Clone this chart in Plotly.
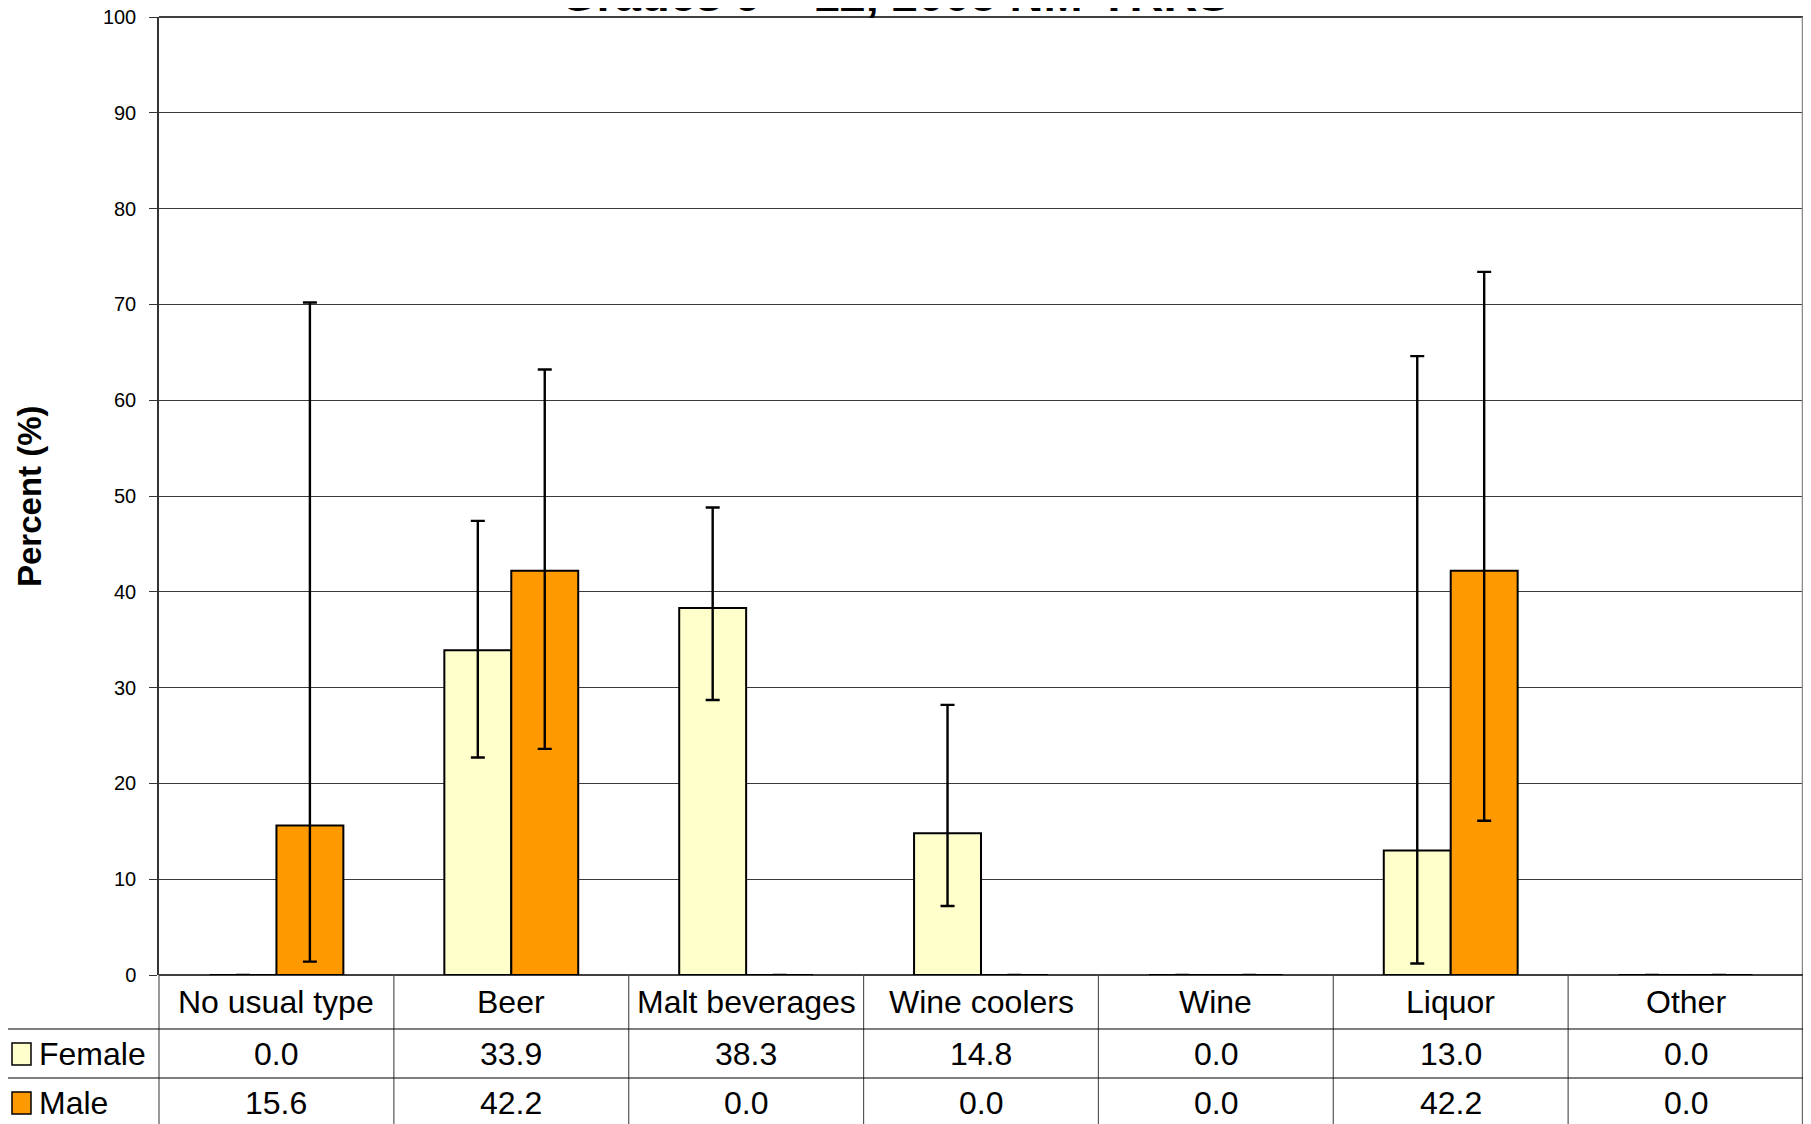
import plotly.graph_objects as go

categories = ["No usual type", "Beer", "Malt beverages", "Wine coolers", "Wine", "Liquor", "Other"]
female = [0.0, 33.9, 38.3, 14.8, 0.0, 13.0, 0.0]
male = [15.6, 42.2, 0.0, 0.0, 0.0, 42.2, 0.0]
female_upper = [0.0, 47.4, 48.8, 28.2, 0.0, 64.6, 0.0]
female_lower = [0.0, 22.7, 28.7, 7.2, 0.0, 1.2, 0.0]
male_upper = [70.2, 63.2, 0.0, 0.0, 0.0, 73.4, 0.0]
male_lower = [1.4, 23.6, 0.0, 0.0, 0.0, 16.1, 0.0]
y_ticks = [0, 10, 20, 30, 40, 50, 60, 70, 80, 90, 100]
title_text = "Grades 9 – 12, 2005 NM-YRRS"
y_title = "Percent (%)"
series_names = ["Female", "Male"]
colors = ["#FFFFCC", "#FF9900"]

# page offset (browser body margin)
OFF = 8
PW, PH = 1811, 1124
W, H = PW - OFF, PH - OFF
# plot area in page pixels
L, R, T, B = 159, 1803, 17, 975
FONT = "Liberation Sans, Arial, sans-serif"


def px(x):
    return (x - L) / (R - L)


def py(y):
    return (B - y) / (B - T)


fig = go.Figure()
for name, vals, up, lo, col in [
    (series_names[0], female, female_upper, female_lower, colors[0]),
    (series_names[1], male, male_upper, male_lower, colors[1]),
]:
    fig.add_trace(go.Bar(
        x=categories, y=vals, name=name,
        marker=dict(color=col, line=dict(color="black", width=2)),
        error_y=dict(type="data", symmetric=False,
                     array=[u - v for u, v in zip(up, vals)],
                     arrayminus=[v - l for v, l in zip(vals, lo)],
                     color="black", thickness=2.4, width=7),
        showlegend=False,
    ))

fig.update_layout(
    width=W, height=H,
    margin=dict(l=L - OFF, r=PW - R, t=T - OFF, b=PH - B, pad=0, autoexpand=False),
    paper_bgcolor="white", plot_bgcolor="white",
    barmode="group", bargap=0.43, bargroupgap=0,
    font=dict(family=FONT, color="black"),
)
fig.update_xaxes(showticklabels=False, showgrid=False, showline=False, zeroline=False, ticks="",
                 automargin=False)
fig.update_yaxes(range=[0, 100], tickvals=y_ticks, ticks="outside", ticklen=8, tickcolor="#333",
                 tickfont=dict(size=20, family=FONT), showgrid=True, gridcolor="#3a3a3a", gridwidth=1,
                 showline=True, linecolor="#333", linewidth=1.5, zeroline=False, ticklabelstandoff=9,
                 ticklabeloverflow="allow", automargin=False)

shapes = []
shapes.append(dict(type="line", xref="paper", yref="paper", x0=0, x1=1, y0=1, y1=1, line=dict(color="black", width=1.5)))
shapes.append(dict(type="line", xref="paper", yref="paper", x0=1, x1=1, y0=1, y1=py(PH), line=dict(color="#888", width=2.5)))
shapes.append(dict(type="line", xref="paper", yref="paper", x0=0, x1=1, y0=0, y1=0, line=dict(color="black", width=1.5)))
n = len(categories)
for k in range(n + 1):
    xx = k / n
    shapes.append(dict(type="line", xref="paper", yref="paper", x0=xx, x1=xx, y0=0, y1=py(PH),
                       line=dict(color="#555", width=1.2)))
shapes.append(dict(type="line", xref="paper", yref="paper", x0=px(3), x1=px(3), y0=py(1029), y1=py(PH),
                   line=dict(color="#555", width=1.2)))
for yy in [1029, 1078]:
    shapes.append(dict(type="line", xref="paper", yref="paper", x0=px(3), x1=1, y0=py(yy), y1=py(yy),
                       line=dict(color="black", width=1.2)))
for (y0, y1), col in zip([(1043, 1065), (1092, 1114)], colors):
    shapes.append(dict(type="rect", xref="paper", yref="paper", x0=px(12), x1=px(31), y0=py(y1), y1=py(y0),
                       fillcolor=col, line=dict(color="black", width=1.5)))

TS = 32
ann = []
for c in categories:
    ann.append(dict(x=c, xref="x", y=py(1002), yref="paper", text=c, showarrow=False,
                    font=dict(size=TS, family=FONT), xanchor="center", yanchor="middle"))
for rowy, vals in [(1054, female), (1103, male)]:
    for c, v in zip(categories, vals):
        ann.append(dict(x=c, xref="x", y=py(rowy), yref="paper", text=f"{v:.1f}", showarrow=False,
                        font=dict(size=TS, family=FONT), xanchor="center", yanchor="middle"))
for rowy, nm in [(1054, series_names[0]), (1103, series_names[1])]:
    ann.append(dict(x=px(37), xref="paper", y=py(rowy), yref="paper", text=nm, showarrow=False,
                    font=dict(size=TS, family=FONT), xanchor="left", yanchor="middle"))
ann.append(dict(x=px(29), xref="paper", y=py(496), yref="paper", text=f"<b>{y_title}</b>", showarrow=False,
                textangle=-90, font=dict(size=33, family=FONT), xanchor="center", yanchor="middle"))
ann.append(dict(x=px(894), xref="paper", y=py(-5), yref="paper", text=f"<b>{title_text}</b>", showarrow=False,
                font=dict(size=47, family=FONT), xanchor="center", yanchor="middle"))

fig.update_layout(shapes=shapes, annotations=ann)
fig.write_html("out.html")
